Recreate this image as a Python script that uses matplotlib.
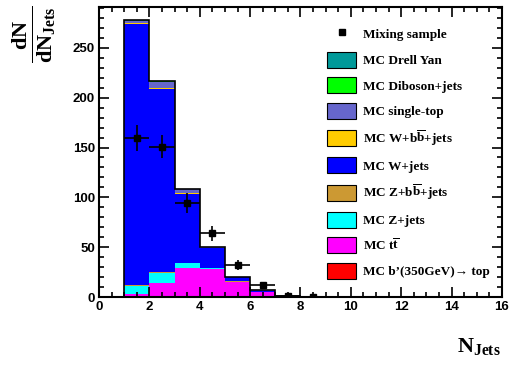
import numpy as np
import matplotlib
matplotlib.use("Agg")
import matplotlib.pyplot as plt
from matplotlib.patches import Patch
from matplotlib.lines import Line2D
from matplotlib.ticker import MultipleLocator

# bin edges of the N_Jets histogram
edges = [1, 2, 3, 4, 5, 6, 7, 8, 9]

# stacked MC components (bottom to top)
bprime = [0.05, 0.1, 0.1, 0.1, 0.05, 0.02, 0.0, 0.0]
ttbar = [3, 14, 29, 28, 15, 5, 0.8, 0.2]
zjets = [8, 10, 5, 1, 0.5, 0.2, 0.05, 0.0]
zbb = [0.8, 0.8, 0.3, 0.1, 0.05, 0.0, 0.0, 0.0]
wjets = [262, 184, 69, 20, 4, 1, 0.2, 0.05]
wbb = [0.6, 1.0, 0.8, 0.2, 0.05, 0.0, 0.0, 0.0]
stop = [2.5, 6, 4, 1, 0.6, 0.6, 0.1, 0.05]
diboson = [0.4, 0.4, 0.3, 0.1, 0.0, 0.0, 0.0, 0.0]
drellyan = [0.2, 0.2, 0.1, 0.0, 0.0, 0.0, 0.0, 0.0]

# mixing sample points
mix = [160, 151, 94, 64, 32, 12, 1, 0.5]
mix_err = [13, 12, 10, 7.5, 5, 3.5, 1, 0.7]

stack = [
    (bprime, "#ff0000", "MC b\u2019(350GeV)\u2192 top"),
    (ttbar, "#ff00ff", r"MC t$\overline{\mathrm{t}}$"),
    (zjets, "#00ffff", "MC Z+jets"),
    (zbb, "#cc9933", r"MC Z+b$\overline{\mathrm{b}}$+jets"),
    (wjets, "#0000ff", "MC W+jets"),
    (wbb, "#ffcc00", r"MC W+b$\overline{\mathrm{b}}$+jets"),
    (stop, "#6666cc", "MC single-top"),
    (diboson, "#00ff00", "MC Diboson+jets"),
    (drellyan, "#009999", "MC Drell Yan"),
]

plt.rcParams["mathtext.fontset"] = "custom"
plt.rcParams["mathtext.rm"] = "Liberation Serif:bold"
plt.rcParams["mathtext.it"] = "Liberation Serif:bold"
plt.rcParams["mathtext.bf"] = "Liberation Serif:bold"

fig = plt.figure(figsize=(5.1, 3.65), dpi=100)
ax = fig.add_axes([99 / 510, 68 / 365, 403 / 510, 290 / 365])

left = np.array(edges[:-1], dtype=float)
bottom = np.zeros(len(left))
for vals, col, lab in stack:
    vals = np.array(vals, dtype=float)
    ax.bar(left, vals, width=1, bottom=bottom, align="edge", color=col,
           edgecolor="none", linewidth=0)
    bottom = bottom + vals

# outline of the total stack
ax.stairs(bottom, edges, color="black", linewidth=1.2, baseline=0)

centers = left + 0.5
ax.errorbar(centers, mix, yerr=mix_err, xerr=0.5, fmt="s", color="black",
            markersize=5, elinewidth=1.2, capsize=0)

ax.set_xlim(0, 16)
ax.set_ylim(0, 291)
ax.xaxis.set_major_locator(MultipleLocator(2))
ax.xaxis.set_minor_locator(MultipleLocator(0.5))
ax.yaxis.set_major_locator(MultipleLocator(50))
ax.yaxis.set_minor_locator(MultipleLocator(10))
ax.tick_params(which="both", direction="in", top=True, right=True, width=1.2)
ax.tick_params(which="major", length=7, pad=3)
ax.tick_params(which="minor", length=3.5)
for lab in ax.get_xticklabels() + ax.get_yticklabels():
    lab.set_fontfamily("Liberation Sans")
    lab.set_fontweight("bold")
    lab.set_fontsize(9.5)
for s in ax.spines.values():
    s.set_linewidth(1.5)

handles = [Line2D([], [], marker="s", color="black", linestyle="none", markersize=4)]
labels = ["Mixing sample"]
for vals, col, lab in stack[::-1]:
    handles.append(Patch(facecolor=col, edgecolor="black", linewidth=0.8))
    labels.append(lab)
fig.legend(handles, labels, loc="upper left", bbox_to_anchor=(327 / 510, 1 - 26 / 365),
           frameon=False, borderpad=0, borderaxespad=0, handlelength=2.2, handleheight=1.5,
           labelspacing=0.72, handletextpad=0.55,
           prop={"family": ["Liberation Serif", "DejaVu Serif"], "weight": "bold", "size": 9.5})

fig.text(501 / 510, 8 / 365, r"N$_{\mathrm{Jets}}$", ha="right", va="bottom",
         fontsize=16, fontfamily="Liberation Serif", fontweight="bold")
fig.text(34 / 510, 1 - 34 / 365, r"$\frac{\mathrm{dN}}{\mathrm{dN_{Jets}}}$", rotation=90,
         ha="center", va="center", fontsize=23)

fig.savefig("out.png", dpi=100)
